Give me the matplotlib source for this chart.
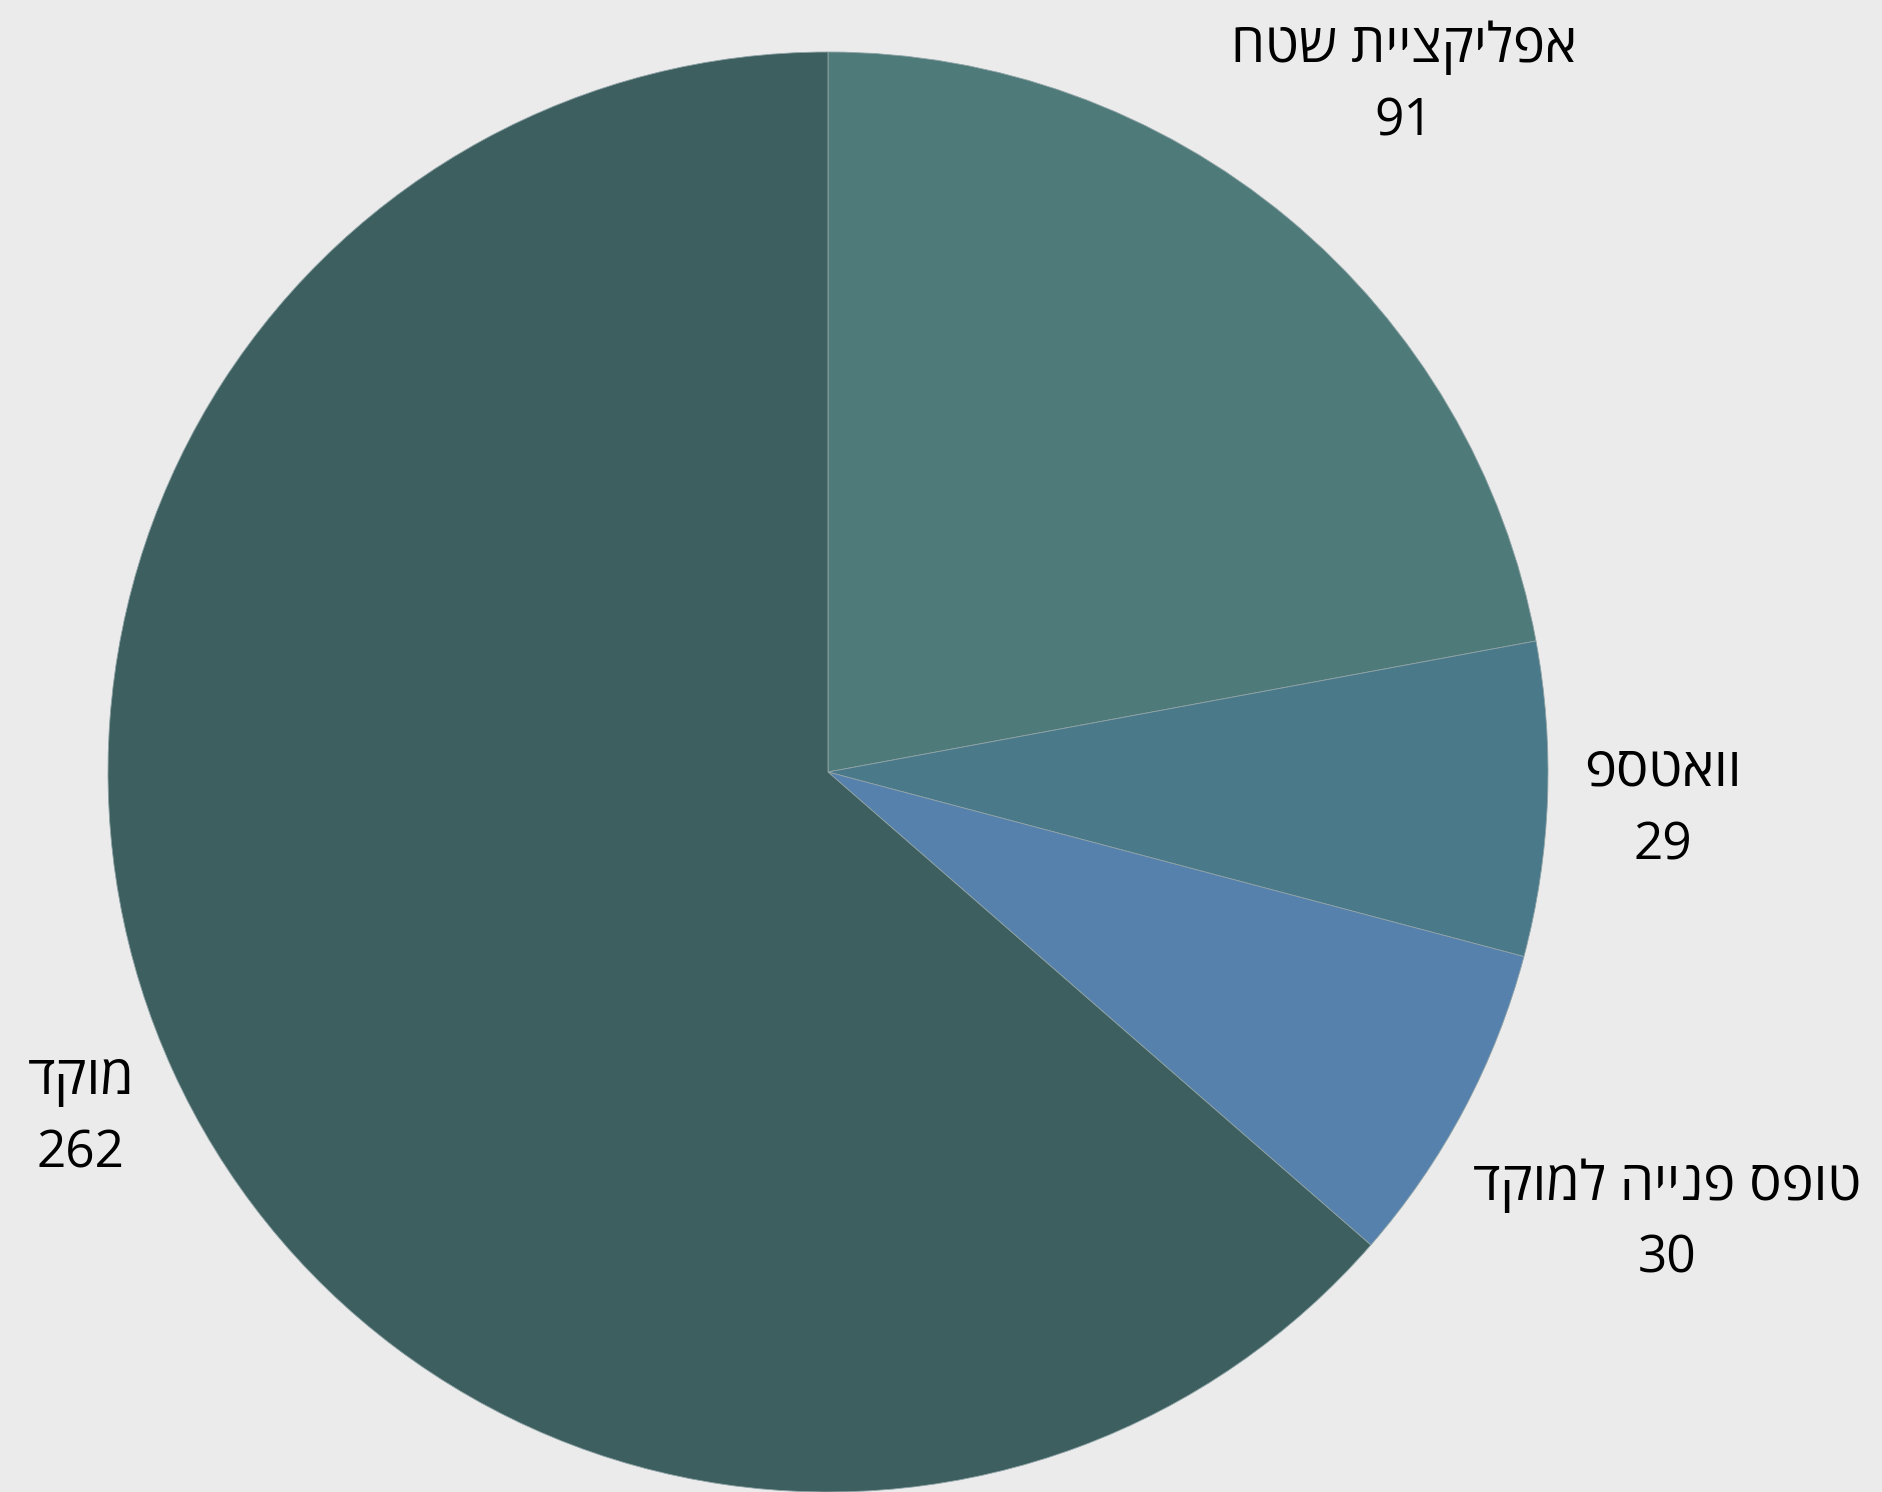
import numpy as np
import matplotlib.pyplot as plt

plt.rcParams['font.family'] = ['Open Sans', 'Liberation Sans', 'DejaVu Sans']

##### data #####
categories = ["אפליקציית שטח", "וואטספ", "טופס פנייה למוקד", "מוקד"]
values = [91, 29, 30, 262]
colors = ["#4f7a7a", "#4a798a", "#5681ad", "#3d5f5f"]

# label distance from centre, in pie radii (layout only)
label_dist = [1.25, 1.16, 1.32, 1.14]

BG = "#ebebeb"

fig = plt.figure(figsize=(18.82, 14.92), dpi=100, facecolor=BG)
# pie of radius 720 px centred at (828, 772)
R = 720
cx, cy = 828, 772
W, H = 1882, 1492
ax = fig.add_axes([(cx - R) / W, (H - cy - R) / H, 2 * R / W, 2 * R / H])
ax.set_facecolor(BG)

wedges, _ = ax.pie(values, colors=colors, startangle=90, counterclock=False,
                   radius=1.0, wedgeprops=dict(edgecolor="#8fa3a6", linewidth=0.6))
ax.set_xlim(-1, 1)
ax.set_ylim(-1, 1)
ax.set_aspect('equal')
ax.axis('off')

##### labels: hebrew drawn right-to-left by reversing the text #####
for w, name, v, d in zip(wedges, categories, values, label_dist):
    ang = np.deg2rad((w.theta1 + w.theta2) / 2)
    x = d * np.cos(ang)
    y = d * np.sin(ang)
    ax.text(x, y + 0.045, name[::-1], ha='center', va='center', fontsize=39,
            color='black', clip_on=False)
    ax.text(x, y - 0.058, str(v), ha='center', va='center', fontsize=37,
            fontweight='medium', color='black', clip_on=False)

fig.savefig("out.png", dpi=100, facecolor=BG)
